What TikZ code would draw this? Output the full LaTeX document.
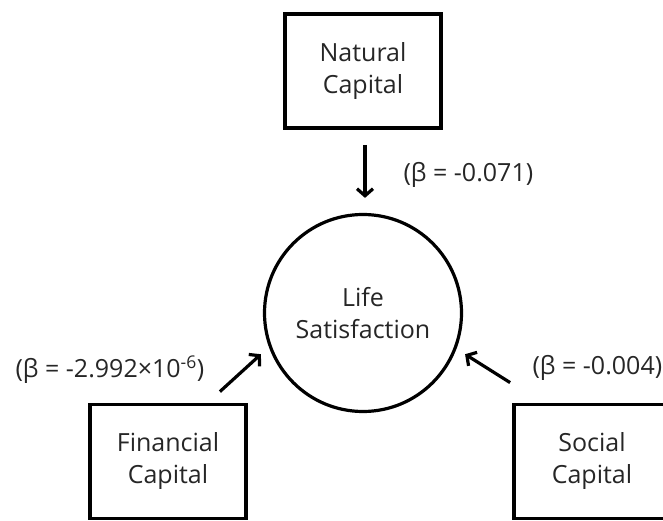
\documentclass[tikz,border=0pt]{standalone}
\usepackage{fontspec}
\setmainfont{Open Sans}
\usepackage{tikz}
\usetikzlibrary{calc,arrows.meta}

\tikzset{
capbox/.style={draw,line width=3.8pt,minimum width=156pt,minimum height=114pt,align=center,text=black!85},
lifecirc/.style={draw,circle,line width=3.2pt,minimum size=197pt,align=center,text=black!85},
betalabel/.style={anchor=west,text=black!85},
effect/.style={line width=3.2pt,-{Straight Barb[length=7pt,width=16pt]}}
}

\begin{document}
\begin{tikzpicture}[x=1pt,y=1pt,font=\fontsize{25}{32}\selectfont]
\clip (0,0) rectangle (663,521);
\node[capbox] (natural) at (363,450) {Natural\\Capital};
\node[lifecirc] (life) at (363,208) {Life\\Satisfaction};
\node[capbox] (financial) at (168,59.5) {Financial\\Capital};
\node[capbox] (social) at (592,59.5) {Social\\Capital};
\node[betalabel] (natbeta) at (400,346) {(β = -0.071)};
\node[betalabel] (finbeta) at (12,151) {(β = -2.992×10\textsuperscript{-6})};
\node[betalabel] (socbeta) at (529,153) {(β = -0.004)};
\draw[effect] ([xshift=2pt,yshift=-15pt]natural.south) -- ([xshift=2pt,yshift=15pt]life.north);
\draw[effect] ([shift={(-28pt,11pt)}]financial.north east) -- ($(life.center)!1.1!(life.202)$);
\draw[effect] ([shift={(-2pt,20pt)}]social.north west) -- ($(life.center)!1.1!(life.338)$);
\end{tikzpicture}
\end{document}
